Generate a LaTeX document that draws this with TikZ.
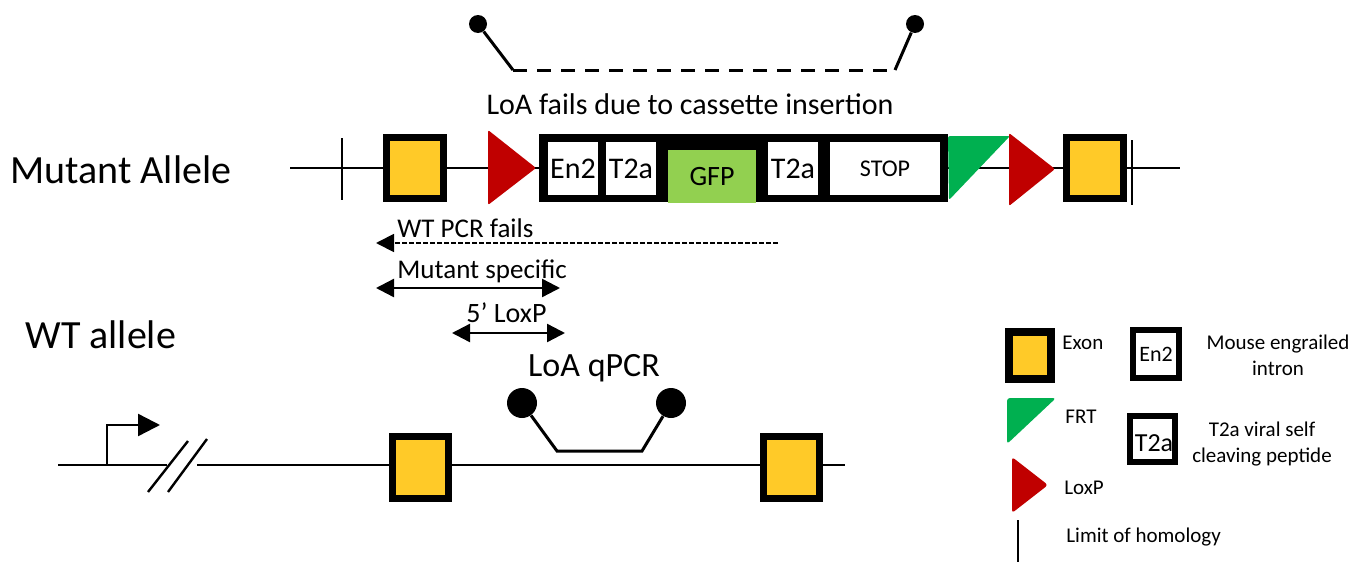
\documentclass[tikz,border=0pt]{standalone}
\usepackage{fontspec}
\setmainfont{Carlito}
\usetikzlibrary{arrows.meta}
\definecolor{exonyellow}{RGB}{255,202,40}
\definecolor{loxred}{RGB}{192,0,0}
\definecolor{frtgreen}{RGB}{0,176,80}
\definecolor{gfpgreen}{RGB}{146,208,80}
\tikzset{exon/.style={draw=black, line width=3.5pt, fill=exonyellow, inner sep=0pt}}
\tikzset{part/.style={fill=white, minimum height=26.5pt, inner sep=0pt, font=\fontsize{15}{15}\selectfont}}
\tikzset{lab/.style={inner sep=0pt, font=\fontsize{13.5}{16}\selectfont}}
\tikzset{leg/.style={inner sep=0pt, font=\fontsize{10.5}{13}\selectfont, align=center}}
\tikzset{primer/.style={circle, fill=black, inner sep=0pt}}
\tikzset{dna/.style={line width=1.2pt}}

\begin{document}
\begin{tikzpicture}[x=0.5pt,y=-0.5pt]
\useasboundingbox (0,0) rectangle (1356,562);

            \node[lab, anchor=west, font=\fontsize{20}{24}\selectfont] (mut) at (10,170) {Mutant Allele};
            \node[lab, anchor=west, font=\fontsize{20}{24}\selectfont] (wt) at (25,335) {WT allele};

                    \coordinate (m0) at (290,168);
                    \coordinate (m1) at (1180,168);
                    \draw[dna] (m0) -- (m1);
                    \coordinate (h1a) at (342,138);
                    \coordinate (h1b) at (342,200);
                    \coordinate (h2a) at (1132,140);
                    \coordinate (h2b) at (1132,205);
                    \draw[dna] (h1a) -- (h1b);
                    \draw[dna] (h2a) -- (h2b);

                    \node[exon, minimum width=28.5pt, minimum height=30.5pt] (e1) at (415,168) {};
                    \fill[loxred, rounded corners=1pt] (488,130) -- (536,168) -- (488,205) -- cycle;
                    \node[fill=black, minimum width=204.5pt, minimum height=34pt, inner sep=0pt] (cas) at (743.5,168) {};
                    \node[part, minimum width=25pt] (en) at (573,168.5) {En2};
                    \node[part, minimum width=25pt] (ta) at (631,168.5) {T2a};
                    \node[part, minimum width=44pt, fill=gfpgreen, text depth=0pt, yshift=-4pt, font=\fontsize{14}{14}\selectfont] (gfp) at (712,168.5) {GFP};
                    \node[part, minimum width=25pt] (tb) at (793,168.5) {T2a};
                    \node[part, minimum width=55pt, font=\fontsize{12}{12}\selectfont] (stop) at (885,168.5) {STOP};
                    \fill[frtgreen, rounded corners=1pt] (948,136) -- (1010,136) -- (949,200) -- cycle;
                    \fill[loxred, rounded corners=1pt] (1009,133) -- (1055,169) -- (1009,206) -- cycle;
                    \node[exon, minimum width=28.5pt, minimum height=30.5pt] (e2) at (1095,168) {};

                    \node[primer, minimum size=9pt] (pa) at (478,24) {};
                    \node[primer, minimum size=9pt] (pb) at (915,24) {};
                    \coordinate (ca) at (513,70);
                    \coordinate (cb) at (895,70);
                    \draw[line width=1.5pt] (pa) -- (ca);
                    \draw[line width=1.5pt, dash pattern=on 7pt off 5pt] (ca) -- (cb);
                    \draw[line width=1.5pt] (cb) -- (pb);
                    \node[lab, font=\fontsize{15}{18}\selectfont] (fail) at (690,104) {LoA fails due to cassette insertion};

                    \node[lab, anchor=west] (wtpcr) at (397,228) {WT PCR fails};
                    \coordinate (w0) at (778,243);
                    \coordinate (w1) at (376,243);
                    \draw[line width=0.9pt, dash pattern=on 2.5pt off 1pt, -{Triangle[length=9pt,width=9pt]}] (w0) -- (w1);
                    \node[lab, anchor=west] (mspec) at (397,271) {Mutant specific};
                    \coordinate (s0) at (376,288);
                    \coordinate (s1) at (560,288);
                    \draw[line width=1.2pt, {Triangle[length=9pt,width=9pt]}-{Triangle[length=9pt,width=9pt]}] (s0) -- (s1);
                    \node[lab, anchor=west, font=\fontsize{14}{16}\selectfont] (lox5) at (466,313) {5’ LoxP};
                    \coordinate (l0) at (452,333);
                    \coordinate (l1) at (565,333);
                    \draw[line width=1.2pt, {Triangle[length=9pt,width=9pt]}-{Triangle[length=9pt,width=9pt]}] (l0) -- (l1);
                    \node[lab, font=\fontsize{17}{20}\selectfont] (qpcr) at (594,368) {LoA qPCR};

                    \coordinate (a0) at (58,465);
                    \coordinate (a1) at (167,465);
                    \coordinate (a2) at (197,465);
                    \coordinate (a3) at (845,465);
                    \draw[dna] (a0) -- (a1);
                    \draw[dna] (a2) -- (a3);
                    \coordinate (pr0) at (107,465);
                    \coordinate (pr1) at (107,425);
                    \coordinate (pr2) at (160,425);
                    \draw[dna, -{Triangle[length=11pt,width=11pt]}] (pr0) -- (pr1) -- (pr2);
                    \coordinate (b1a) at (148,492);
                    \coordinate (b1b) at (188,441);
                    \coordinate (b2a) at (168,492);
                    \coordinate (b2b) at (207,439);
                    \draw[dna] (b1a) -- (b1b);
                    \draw[dna] (b2a) -- (b2b);
                    \node[exon, minimum width=28pt, minimum height=31pt] (w1e) at (420,467) {};
                    \node[exon, minimum width=28pt, minimum height=31pt] (w2e) at (791,467) {};

                    \node[primer, minimum size=15pt] (qa) at (522,403) {};
                    \node[primer, minimum size=15pt] (qb) at (671,403) {};
                    \coordinate (qc) at (557,451);
                    \coordinate (qd) at (642,451);
                    \draw[line width=1.5pt] (qa) -- (qc) -- (qd) -- (qb);

                    \node[exon, line width=4pt, minimum width=21pt, minimum height=23.5pt] (kex) at (1030,355) {};
                    \node[leg, anchor=west] (kext) at (1062,343) {Exon};
                    \node[draw=black, line width=3pt, fill=white, minimum width=23pt, minimum height=24pt, inner sep=0pt, font=\fontsize{11}{11}\selectfont] (ken) at (1156,354) {En2};
                    \node[leg] (kent) at (1278,355) {Mouse engrailed\\intron};
                    \fill[frtgreen, rounded corners=1.5pt] (1007,398) -- (1056,398) -- (1007,444) -- cycle;
                    \node[leg, anchor=west] (kfrt) at (1065,417) {FRT};
                    \node[draw=black, line width=3pt, fill=white, minimum width=22.5pt, minimum height=23pt, inner sep=0pt] (kt) at (1152,439) {};
                    \node[inner sep=0pt, font=\fontsize{13}{13}\selectfont] (ktt) at (1154,443) {T2a};
                    \node[leg] (ktxt) at (1262,444) {T2a viral self\\cleaving peptide};
                    \fill[loxred, rounded corners=1.5pt] (1012,457) -- (1048,485) -- (1012,513) -- cycle;
                    \node[leg, anchor=west] (klox) at (1064,488) {LoxP};
                    \coordinate (k0) at (1018,520);
                    \coordinate (k1) at (1018,562);
                    \draw[line width=1pt] (k0) -- (k1);
                    \node[leg, anchor=west] (klim) at (1066,537) {Limit of homology};
\end{tikzpicture}
\end{document}
